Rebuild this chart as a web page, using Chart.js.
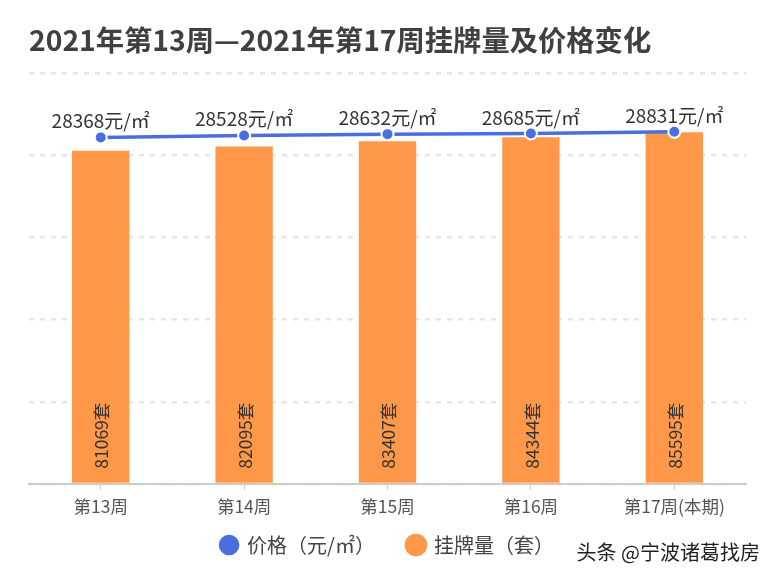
<!DOCTYPE html>
<html>
<head>
<meta charset="utf-8">
<script src="https://cdn.jsdelivr.net/npm/chart.js@4"></script>
<style>
  body { margin: 0; background: #fff; }
  #wrap { width: 777px; height: 579px; position: relative; }
</style>
</head>
<body>
<div id="wrap"><canvas id="myChart" width="777" height="579"></canvas></div>
<script>
// data
var weeks = ['第13周', '第14周', '第15周', '第16周', '第17周(本期)'];
var listings = [81069, 82095, 83407, 84344, 85595];
var prices = [28368, 28528, 28632, 28685, 28831];

var FONT = '"Noto Sans CJK SC", "Noto Sans", sans-serif';

// draws value labels next to the marks and the watermark
var labelPlugin = {
    id: 'labels',
    afterLayout: function (chart) {
        // legend padding is wide for the gaps between items, pull the row back up
        if (chart.legend) {
            chart.legend.top -= 21;
        }
    },
    afterDatasetsDraw: function (chart) {
        var ctx = chart.ctx;
        ctx.save();
        ctx.fillStyle = '#333';

        // bar labels, rotated, sitting near the base
        var barMeta = chart.getDatasetMeta(1);
        ctx.font = '17.5px ' + FONT;
        barMeta.data.forEach(function (bar, i) {
            ctx.save();
            ctx.translate(bar.x + 1, bar.base - 14);
            ctx.rotate(-Math.PI / 2);
            ctx.textAlign = 'left';
            ctx.textBaseline = 'middle';
            ctx.fillText(listings[i] + '套', 0, 0);
            ctx.restore();
        });

        // price labels above the points
        var lineMeta = chart.getDatasetMeta(0);
        ctx.font = '19px ' + FONT;
        ctx.textAlign = 'center';
        ctx.textBaseline = 'alphabetic';
        lineMeta.data.forEach(function (pt, i) {
            ctx.fillText(prices[i] + '元/㎡', pt.x, pt.y - 9);
        });
        ctx.restore();
    },
    afterDraw: function (chart) {
        var ctx = chart.ctx;
        ctx.save();
        ctx.font = '20px ' + FONT;
        ctx.textAlign = 'right';
        ctx.textBaseline = 'middle';
        ctx.fillStyle = '#222';
        ctx.shadowColor = 'rgba(255,255,255,0.9)';
        ctx.shadowBlur = 2;
        ctx.fillText('头条 @宁波诸葛找房', 760, 552);
        ctx.restore();
    }
};

var ctx = document.getElementById('myChart').getContext('2d');
var myChart = new Chart(ctx, {
    type: 'bar',
    data: {
        labels: weeks,
        datasets: [{
            type: 'line',
            label: '价格（元/㎡）',
            data: prices,
            yAxisID: 'y1',
            order: 0,
            borderColor: '#4a6ee0',
            backgroundColor: '#4a6ee0',
            borderWidth: 3.5,
            pointRadius: 6,
            pointBorderColor: '#fff',
            pointBorderWidth: 2,
            pointBackgroundColor: '#4a6ee0',
            tension: 0
        }, {
            label: '挂牌量（套）',
            data: listings,
            yAxisID: 'y',
            order: 1,
            backgroundColor: '#ff9848',
            borderWidth: 0,
            barPercentage: 0.8,
            categoryPercentage: 0.5
        }]
    },
    options: {
        responsive: false,
        animation: false,
        layout: { padding: { left: 29, right: 31, bottom: 0 } },
        plugins: {
            title: {
                display: true,
                text: '2021年第13周—2021年第17周挂牌量及价格变化',
                align: 'start',
                color: '#404040',
                font: { family: FONT, size: 28.3, weight: 'bold' },
                padding: { top: 23, bottom: 16 }
            },
            legend: {
                position: 'bottom',
                maxHeight: 56,
                labels: {
                    usePointStyle: true,
                    pointStyle: 'circle',
                    boxWidth: 16,
                    boxHeight: 16,
                    padding: 33,
                    color: '#444',
                    font: { family: FONT, size: 20 }
                }
            },
            tooltip: { enabled: false }
        },
        scales: {
            x: {
                grid: {
                    offset: false,
                    drawOnChartArea: false,
                    drawTicks: true,
                    tickLength: 6,
                    color: '#ccc'
                },
                border: { display: true, color: '#ccc', width: 2 },
                ticks: { color: '#555', font: { family: FONT, size: 17.5 }, padding: 6 }
            },
            y: {
                min: 0,
                max: 100000,
                ticks: { display: false, stepSize: 20000 },
                border: { display: false, dash: [5, 6] },
                grid: {
                    drawTicks: false,
                    color: '#e6e6e6',
                    lineWidth: 2.5
                }
            },
            y1: {
                display: false,
                min: 0,
                max: 33640
            }
        }
    },
    plugins: [labelPlugin]
});
</script>
</body>
</html>
